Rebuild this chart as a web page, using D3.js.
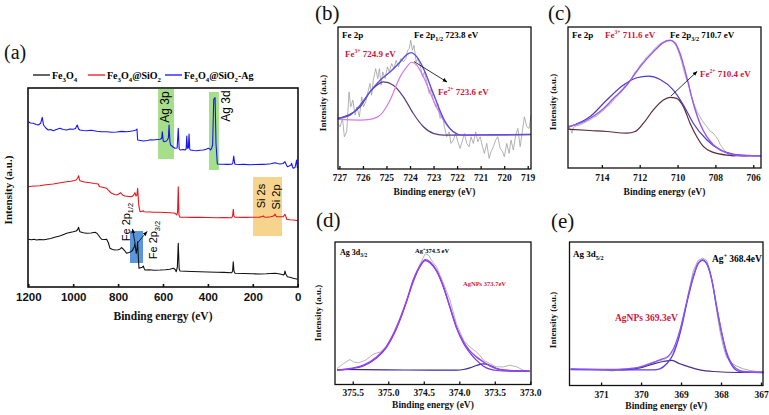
<!DOCTYPE html>
<html><head><meta charset="utf-8">
<script src="https://cdn.jsdelivr.net/npm/d3@7"></script>
<style>body{margin:0;background:#fff}svg{display:block}</style>
</head><body><svg id="c" width="769" height="415"></svg>
<script>
// ================= DATA =================
// Panel (a) survey spectra: [binding energy (eV), intensity (a.u.)]
const surveyTicks = [1200, 1000, 800, 600, 400, 200, 0];
const fe3o4 = [[1200,47.7],[1185,47.2],[1175,47.8],[1163,47],[1150,47.5],[1130,47.3],[1118,47.7],[1100,48.5],[1090,49.2],[1074,50.3],[1060,51],[1045,52.3],[1029,53.7],[1015,54.5],[1000,55.2],[987,56],[980,57.5],[976,59.7],[972,56.5],[970,55.3],[955,54.2],[940,53.7],[920,54],[903,54.7],[895,53.8],[888,52],[880,49.5],[873,47.7],[860,47.5],[851,47.7],[843,44],[836,38.7],[825,37.5],[814,37],[800,37.3],[791,38],[785,39.5],[776,37.7],[768,35.5],[762,33.7],[752,34.5],[744,35.3],[736,36.5],[732,38.7],[728,40],[725,43.7],[722,38],[719,33.7],[716,38],[713,45.3],[710,30],[707,18.7],[700,19.2],[692,19.8],[688,21],[684,18.5],[680,17],[660,17.2],[640,16.8],[613,17],[590,17.3],[570,17.8],[553,18.7],[546,17.5],[541,15.3],[536,20],[532,43.7],[528,18],[524,16],[500,15.8],[470,15.5],[435,15.3],[400,15],[360,14.7],[330,14.6],[294,14.3],[290,16],[287,25.3],[284,16],[279,13.7],[240,13.5],[200,13.2],[168,13],[140,13.2],[120,13.5],[101,13.7],[85,13.2],[70,12.5],[64,12],[59,13],[57,16],[53,13],[46,10.3],[35,9.8],[20,8.7],[10,8.2],[0,7.7]];
const fe3o4SiO2 = [[1200,100.3],[1185,100.8],[1170,101],[1148,101.3],[1130,102],[1110,102.5],[1089,103],[1070,103.8],[1050,104.5],[1029,105.3],[1010,105.8],[995,106.5],[987,107],[980,109],[976,111.3],[972,107.5],[970,106.3],[950,105],[925,104.3],[905,103.5],[888,103],[884,100.8],[880,100.3],[865,99.5],[851,98.7],[840,96],[829,93.7],[815,92.5],[806,92],[797,93],[789,94.3],[780,92],[770,91],[755,90.6],[740,90.3],[732,91.5],[725,94.3],[720,91],[716,92],[713,98.7],[709,85],[707,80.3],[702,75.3],[692,75.8],[688,76.3],[684,75.2],[670,75],[657,75],[640,74.8],[613,74.7],[590,74.5],[568,74.3],[553,74],[546,73.7],[539,72],[535,75],[532,100.3],[529,72],[524,69.7],[500,69.8],[470,69.6],[435,69.7],[400,69.5],[361,69.3],[330,69.4],[294,69.3],[290,71],[287,77.7],[284,71],[279,69.7],[240,69.6],[198,69.7],[170,69.9],[158,70.5],[153,71],[148,70],[138,69.7],[120,70.2],[108,71],[103,72],[101,73],[98,71.5],[94,70.3],[75,70.3],[64,70.3],[57,72.7],[52,70],[49,67.7],[35,67.3],[20,67],[10,66.8],[0,66.3]];
const fe3o4SiO2Ag = [[1200,165.3],[1190,164],[1178,163.7],[1165,162.5],[1155,162],[1145,163.7],[1138,169.7],[1132,162],[1122,159],[1111,157],[1100,157.5],[1089,156.3],[1075,157.5],[1059,158.7],[1045,157.5],[1029,157],[1015,158],[1000,157.7],[990,158.5],[982,162],[976,158],[970,157],[955,156.5],[940,156.3],[920,156.8],[895,155.7],[875,155.2],[851,155.3],[830,154.8],[806,155],[785,155.6],[762,155.3],[745,155.8],[732,156.3],[720,157],[716,158],[713,147],[700,146.5],[688,146],[670,146.5],[655,147.2],[643,147],[625,147.5],[613,147.7],[606,148.5],[603,155.3],[599,146],[594,145.3],[585,146],[581,147],[576,149],[573,162],[569,145],[566,142],[555,140],[547,138.7],[537,139],[532,158.7],[528,138],[524,137],[510,137.5],[502,137],[497,138],[494,151],[491,138.7],[487,139],[484,153],[481,138],[478,137],[465,136.5],[450,136.3],[435,136.7],[420,137],[408,137.8],[398,138.7],[391,138],[388,137],[383,139],[379,142],[374,187.7],[368,189.3],[364,143.7],[358,123],[345,122.8],[331,122.7],[315,122.6],[294,122.7],[289,124],[285,131],[281,124],[279,122.7],[260,122.5],[240,122.6],[212,122.3],[190,122.5],[160,122.6],[138,122.7],[120,123.2],[101,124.3],[90,123.5],[79,123],[65,123.5],[57,125.3],[50,122],[46,120.3],[38,121],[30,122],[27,123.7],[23,120],[20,118.7],[12,119.5],[5,127],[2,120],[0,118.7]];
// highlighted regions [eV from, eV to, intensity low, intensity high]
const bandAg3p = [622, 551, 128, 198];
const bandAg3d = [395, 351, 117, 195];
const bandSi = [199, 70, 51, 110];
const bandFe = [747, 689, 24, 56];

// Panel (b) Fe 2p1/2
const ticksB = [727, 726, 725, 724, 723, 722, 721, 720, 719];
const feB_raw = [[727.07,137],[726.97,127],[726.87,152],[726.79,97],[726.69,112],[726.59,232],[726.52,187],[726.43,207],[726.33,162],[726.26,187],[726.15,157],[726.05,217],[725.98,187],[725.88,202],[725.77,237],[725.70,257],[725.63,222],[725.56,267],[725.46,302],[725.37,272],[725.30,302],[725.23,252],[725.16,292],[725.06,272],[724.96,307],[724.88,292],[724.78,317],[724.68,302],[724.59,327],[724.49,307],[724.39,332],[724.28,322],[724.18,332],[724.10,357],[724.03,362],[723.97,387],[723.90,357],[723.83,372],[723.74,322],[723.67,332],[723.57,312],[723.47,277],[723.39,292],[723.29,262],[723.19,227],[723.10,242],[723.01,207],[722.91,187],[722.82,197],[722.72,152],[722.62,162],[722.54,127],[722.44,97],[722.34,112],[722.26,77],[722.16,87],[722.06,107],[721.97,82],[721.87,62],[721.77,87],[721.69,107],[721.59,77],[721.49,67],[721.41,97],[721.31,77],[721.21,112],[721.12,82],[721.02,97],[720.92,67],[720.84,47],[720.74,77],[720.64,32],[720.56,52],[720.46,67],[720.36,87],[720.27,97],[720.17,62],[720.07,52],[719.99,37],[719.89,77],[719.79,47],[719.71,87],[719.61,57],[719.51,102],[719.42,122],[719.32,67],[719.22,117],[719.14,157],[719.04,127],[718.94,122],[718.86,162]];
const feB_fit = [[727.07,152],[726.55,162],[726.12,192],[725.70,232],[725.27,267],[724.85,292],[724.42,322],[724.14,344],[723.95,350],[723.71,337],[723.43,302],[723.01,227],[722.58,152],[722.16,112],[721.80,102],[720.46,103],[718.86,104]];
const feB_fe3 = [[727.07,152],[726.12,187],[725.70,232],[725.41,252],[725.13,262],[724.71,252],[724.28,217],[723.86,167],[723.43,127],[723.01,107],[722.58,102],[718.86,103]];
const feB_fe2 = [[727.07,149],[726.12,147],[725.70,149],[725.27,162],[724.85,207],[724.42,277],[724.14,307],[723.93,321],[723.71,312],[723.43,277],[723.01,207],[722.58,147],[722.16,112],[721.80,102],[718.86,104]];

// Panel (c) Fe 2p3/2
const ticksC = [714, 712, 710, 708, 706];
const feC_raw = [[715.76,120],[715.67,118],[715.58,105],[715.50,122],[715.36,127],[715.14,130],[714.95,136],[714.80,140],[714.62,145],[714.45,152],[714.30,156],[714.15,163],[714.00,170],[713.87,176],[713.74,185],[713.55,192],[713.38,205],[713.21,215],[713.08,222],[712.95,230],[712.86,238],[712.77,255],[712.68,252],[712.59,260],[712.45,268],[712.24,290],[712.10,298],[711.98,310],[711.80,322],[711.63,335],[711.45,344],[711.28,355],[711.10,366],[710.92,375],[710.75,380],[710.57,385],[710.45,383],[710.31,385],[710.18,376],[710.05,365],[709.90,342],[709.78,320],[709.65,290],[709.52,265],[709.42,258],[709.34,230],[709.20,205],[709.08,185],[708.95,168],[708.82,155],[708.64,138],[708.46,125],[708.30,112],[708.11,105],[707.98,95],[707.85,85],[707.76,72],[707.67,65],[707.55,55],[707.41,45],[707.25,38],[707.06,35],[706.90,38],[706.71,37],[706.55,34],[706.36,35],[706.18,38],[706.00,37],[705.80,36],[705.60,37]];
const feC_fit = [[715.76,125],[715.14,135],[714.62,150],[714.00,175],[713.38,210],[712.68,250],[711.98,305],[711.28,350],[710.75,378],[710.40,385],[710.13,377],[709.87,345],[709.52,275],[709.17,195],[708.82,135],[708.46,95],[708.11,70],[707.59,50],[707.06,40],[706.36,37],[705.60,37]];
const feC_fe3 = [[715.76,123],[714.62,155],[713.74,205],[712.86,250],[712.15,272],[711.54,277],[710.92,267],[710.22,235],[709.69,190],[709.17,135],[708.46,85],[707.76,55],[707.06,42],[706.36,38],[705.60,37]];
const feC_fe2 = [[715.76,117],[714.62,113],[713.74,110],[712.68,105],[712.24,110],[711.80,135],[711.28,175],[710.75,205],[710.40,213],[710.05,210],[709.69,185],[709.34,135],[708.99,95],[708.64,65],[708.11,47],[707.41,39],[706.71,37],[705.60,37]];

// Panel (d) Ag 3d3/2
const ticksD = [375.5, 375.0, 374.5, 374.0, 373.5, 373.0];
const agD_raw = [[375.72,48],[375.63,63],[375.54,75],[375.49,68],[375.42,65],[375.32,73],[375.21,91],[375.11,98],[375.03,113],[374.93,153],[374.83,203],[374.74,253],[374.65,303],[374.55,363],[374.48,393],[374.43,388],[374.39,373],[374.32,353],[374.22,303],[374.13,253],[374.04,183],[373.94,133],[373.85,113],[373.76,98],[373.71,88],[373.66,73],[373.57,63],[373.48,53],[373.38,53],[373.29,58],[373.19,53],[373.10,43],[373.01,38]];
const agD_fit = [[375.72,43],[375.54,48],[375.35,58],[375.16,83],[375.03,113],[374.88,173],[374.74,253],[374.65,313],[374.55,358],[374.48,375],[374.41,368],[374.32,343],[374.22,293],[374.13,233],[374.04,173],[373.94,128],[373.85,101],[373.76,83],[373.66,68],[373.57,56],[373.48,48],[373.29,42],[373.01,40]];
const agD_ag = [[375.72,43],[375.54,47],[375.35,56],[375.16,80],[375.03,110],[374.88,170],[374.74,250],[374.65,310],[374.55,355],[374.48,372],[374.41,365],[374.32,340],[374.22,290],[374.13,230],[374.04,170],[373.94,123],[373.85,95],[373.76,73],[373.66,55],[373.57,46],[373.48,42],[373.29,40],[373.01,40]];
const agD_np = [[375.72,45],[375.02,44],[374.41,43],[374.04,43],[373.94,45],[373.85,50],[373.76,57],[373.66,62],[373.57,58],[373.48,48],[373.38,43],[373.19,41],[373.01,40]];

// Panel (e) Ag 3d5/2
const ticksE = [371, 370, 369, 368, 367];
const agE_raw = [[371.76,50],[371.53,48],[371.28,49],[370.86,47],[370.73,43],[370.61,47],[370.36,50],[370.11,53],[369.94,60],[369.78,67],[369.61,73],[369.44,77],[369.32,85],[369.19,100],[369.07,135],[368.94,195],[368.82,275],[368.69,345],[368.57,375],[368.46,382],[368.36,375],[368.28,345],[368.19,295],[368.11,225],[368.03,165],[367.94,115],[367.86,85],[367.73,67],[367.61,58],[367.44,50],[367.28,45],[367.11,42],[366.94,42]];
const agE_fit = [[371.76,50],[370.86,48],[370.36,50],[370.03,55],[369.78,65],[369.53,77],[369.32,88],[369.19,110],[369.03,165],[368.86,250],[368.69,330],[368.57,367],[368.46,377],[368.36,367],[368.23,317],[368.11,237],[367.98,157],[367.86,100],[367.73,65],[367.61,50],[367.44,42],[366.94,39]];
const agE_ag = [[371.76,48],[370.03,47],[369.69,47],[369.53,50],[369.36,65],[369.19,95],[369.03,155],[368.86,245],[368.69,325],[368.57,365],[368.46,375],[368.36,365],[368.23,315],[368.11,235],[367.98,155],[367.86,95],[367.73,60],[367.61,45],[367.44,40],[366.94,39]];
const agE_np = [[371.76,48],[370.44,47],[370.03,53],[369.69,65],[369.44,72],[369.23,75],[369.03,65],[368.78,55],[368.53,47],[368.19,42],[367.53,39],[366.94,39]];

// ================= DRAWING =================
const svg = d3.select('#c');
const SERIF = '"Liberation Serif","Times New Roman",serif';
const SANS = '"Liberation Sans",Arial,sans-serif';
const RED = '#d3143c';

const defs = svg.append('defs');
defs.append('marker').attr('id','arr').attr('viewBox','0 0 10 10').attr('refX',9).attr('refY',5)
  .attr('markerWidth',6).attr('markerHeight',6).attr('orient','auto')
  .append('path').attr('d','M0,1 L10,5 L0,9 z').attr('fill','#000');

// rich text: parts = [[string, 'sub'|'sup'|null, ...]]
function rich(parent, x, y, parts, o) {
  const t = parent.append('text').attr('x', x).attr('y', y)
    .attr('font-family', o.family || SERIF).attr('font-weight', o.weight || 'bold')
    .attr('font-size', o.size).attr('fill', o.fill || '#000')
    .attr('text-anchor', o.anchor || 'start');
  if (o.rotate) t.attr('transform', `rotate(${o.rotate},${x},${y})`);
  let shift = 0;
  parts.forEach(p => {
    const s = t.append('tspan').text(p[0]);
    let target = 0;
    if (p[1] === 'sub') { target = o.size * 0.3; s.attr('font-size', o.size * 0.68); }
    if (p[1] === 'sup') { target = -o.size * 0.4; s.attr('font-size', o.size * 0.62); }
    if (target !== shift) { s.attr('dy', target - shift); shift = target; }
  });
  return t;
}

function panel(cfg) {
  const x = d3.scaleLinear().domain(cfg.xd).range([cfg.x0, cfg.x1]);
  const y = d3.scaleLinear().domain(cfg.yd).range([cfg.y1, cfg.y0]);
  const g = svg.append('g');
  const ax = d3.axisBottom(x).tickValues(cfg.ticks).tickFormat(cfg.fmt)
    .tickSize(-cfg.tl).tickPadding(cfg.pad);
  const a = g.append('g').attr('transform', `translate(0,${cfg.y1})`).call(ax);
  a.select('.domain').remove();
  a.selectAll('line').attr('stroke', '#111').attr('stroke-width', cfg.fw);
  a.selectAll('text').attr('font-family', cfg.tf).attr('font-weight', 'bold')
    .attr('font-size', cfg.ts).attr('fill', '#111');
  g.append('text').attr('x', (cfg.x0 + cfg.x1) / 2 + (cfg.tdx || 0)).attr('y', cfg.titleY)
    .attr('text-anchor', 'middle').attr('font-family', SERIF).attr('font-weight', 'bold')
    .attr('font-size', cfg.titleSize).attr('fill', '#111').text('Binding energy (eV)');
  g.append('text').attr('transform', `translate(${cfg.ylx},${cfg.yly}) rotate(-90)`)
    .attr('text-anchor', 'middle').attr('font-family', SERIF).attr('font-weight', 'bold')
    .attr('font-size', cfg.ylSize).attr('fill', '#111').text('Intensity (a.u.)');
  g.append('text').attr('x', cfg.lx).attr('y', cfg.ly).attr('font-family', SERIF)
    .attr('font-size', cfg.lsize).attr('fill', '#111').text(cfg.label);
  cfg.bandsFn && cfg.bandsFn(g, x, y);
  const plot = g.append('g');
  cfg.series.forEach(s => {
    const line = d3.line().x(d => x(d[0])).y(d => y(d[1]))
      .curve(s.smooth ? d3.curveMonotoneX : d3.curveLinear);
    plot.append('path').datum(s.data).attr('d', line).attr('fill', 'none')
      .attr('stroke', s.color).attr('stroke-width', s.w).attr('stroke-linejoin', 'round');
  });
  g.append('rect').attr('x', cfg.x0).attr('y', cfg.y0).attr('width', cfg.x1 - cfg.x0)
    .attr('height', cfg.y1 - cfg.y0).attr('fill', 'none').attr('stroke', '#111').attr('stroke-width', cfg.fw);
  return { g, x, y };
}

// ---- Panel (a)
const pa = panel({
  x0: 28, x1: 298, y0: 88, y1: 287, xd: [1201.3, -1.3], yd: [0, 199],
  ticks: surveyTicks, fmt: d3.format('d'), tl: 3, pad: 6, fw: 1.6,
  tf: SANS, ts: 11.5, titleY: 320, titleSize: 11.5, tdx: 0,
  ylx: 12, yly: 190, ylSize: 11, lx: 4, ly: 59, lsize: 20, label: '(a)',
  bandsFn: (g, x, y) => {
    const band = (b, c, op) => g.append('rect').attr('x', x(b[0])).attr('width', x(b[1]) - x(b[0]))
      .attr('y', y(b[3])).attr('height', y(b[2]) - y(b[3])).attr('fill', c).attr('opacity', op);
    band(bandAg3p, '#a6df8a', 1); band(bandAg3d, '#a6df8a', 1);
    band(bandSi, '#f7d48e', 1); band(bandFe, '#5b96dc', 1);
  },
  series: [
    { data: fe3o4, color: '#111', w: 1.1 },
    { data: fe3o4SiO2, color: '#e8141c', w: 1.1 },
    { data: fe3o4SiO2Ag, color: '#1414ff', w: 1.1 }
  ]
});
// band labels
const ga = pa.g;
rich(ga, 165, 107, [['Ag 3p']], { size: 12, family: SANS, weight: 'normal', anchor: 'middle', rotate: -90 }).attr('dominant-baseline', 'central');
rich(ga, 226, 106, [['Ag 3d']], { size: 12, family: SANS, weight: 'normal', anchor: 'middle', rotate: -90 }).attr('dominant-baseline', 'central');
rich(ga, 260.5, 196, [['Si 2s']], { size: 11, family: SANS, weight: 'normal', anchor: 'middle', rotate: -90 }).attr('dominant-baseline', 'central');
rich(ga, 275.5, 197, [['Si 2p']], { size: 11, family: SANS, weight: 'normal', anchor: 'middle', rotate: -90 }).attr('dominant-baseline', 'central');
rich(ga, 129.5, 222, [['Fe 2p'], ['1/2', 'sub']], { size: 11, family: SANS, weight: 'normal', anchor: 'middle', rotate: -90 });
rich(ga, 156.5, 240, [['Fe 2p'], ['3/2', 'sub']], { size: 11, family: SANS, weight: 'normal', anchor: 'middle', rotate: -90 });
ga.append('line').attr('x1', 135).attr('y1', 243).attr('x2', 132.5).attr('y2', 229).attr('stroke', '#000').attr('stroke-width', 0.8).attr('marker-end', 'url(#arr)');
ga.append('line').attr('x1', 137.5).attr('y1', 243).attr('x2', 147).attr('y2', 231.5).attr('stroke', '#000').attr('stroke-width', 0.8).attr('marker-end', 'url(#arr)');
// legend
const legend = [
  { x: 33, parts: [['Fe'], ['3', 'sub'], ['O'], ['4', 'sub']], color: '#111' },
  { x: 88, parts: [['Fe'], ['3', 'sub'], ['O'], ['4', 'sub'], ['@SiO'], ['2', 'sub']], color: '#e8141c' },
  { x: 165, parts: [['Fe'], ['3', 'sub'], ['O'], ['4', 'sub'], ['@SiO'], ['2', 'sub'], ['-Ag']], color: '#1414ff' }
];
legend.forEach(l => {
  svg.append('line').attr('x1', l.x).attr('x2', l.x + 17).attr('y1', 75).attr('y2', 75)
    .attr('stroke', l.color).attr('stroke-width', 1.3);
  rich(svg, l.x + 19, 78.5, l.parts, { size: 10 });
});

// ---- Panel (b)
const pb = panel({
  x0: 338, x1: 531, y0: 27, y1: 169, xd: [727.06, 718.86], yd: [0, 427],
  ticks: ticksB, fmt: d3.format('d'), tl: 3, pad: 5, fw: 1.3,
  tf: SERIF, ts: 9.5, titleY: 195, titleSize: 9.5,
  ylx: 326, yly: 103, ylSize: 9, lx: 315, ly: 20, lsize: 21, label: '(b)',
  series: [
    { data: feB_raw, color: '#9e9e9e', w: 0.8 },
    { data: feB_fe3, color: '#5a3a7e', w: 1.2, smooth: true },
    { data: feB_fe2, color: '#d47af0', w: 1.2, smooth: true },
    { data: feB_fit, color: '#5a4fe6', w: 1.4, smooth: true }
  ]
});
rich(pb.g, 342, 38, [['Fe 2p']], { size: 9 });
rich(pb.g, 414, 38, [['Fe 2p'], ['1/2', 'sub'], [' 723.8 eV']], { size: 9 });
rich(pb.g, 345, 56.5, [['Fe'], ['3+', 'sup'], [' 724.9 eV']], { size: 9, fill: RED });
rich(pb.g, 438, 95, [['Fe'], ['2+', 'sup'], [' 723.6 eV']], { size: 9, fill: RED });
pb.g.append('line').attr('x1', 414).attr('y1', 61.5).attr('x2', 447).attr('y2', 82)
  .attr('stroke', '#000').attr('stroke-width', 0.8).attr('marker-end', 'url(#arr)');

// ---- Panel (c)
const pc = panel({
  x0: 568, x1: 761, y0: 27, y1: 168, xd: [715.79, 705.59], yd: [0, 425],
  ticks: ticksC, fmt: d3.format('d'), tl: 3, pad: 6, fw: 1.3,
  tf: SERIF, ts: 9.5, titleY: 195, titleSize: 9.5,
  ylx: 556, yly: 102, ylSize: 9, lx: 548, ly: 20, lsize: 21, label: '(c)',
  series: [
    { data: feC_raw, color: '#9e9e9e', w: 0.8 },
    { data: feC_fe2, color: '#5a2a3c', w: 1.2, smooth: true },
    { data: feC_fe3, color: '#4d3cc4', w: 1.2, smooth: true },
    { data: feC_fit, color: '#9a55f5', w: 1.4, smooth: true }
  ]
});
rich(pc.g, 572, 38, [['Fe 2p']], { size: 9 });
rich(pc.g, 605, 38, [['Fe'], ['3+', 'sup'], [' 711.6 eV']], { size: 9, fill: RED });
rich(pc.g, 670, 38, [['Fe 2p'], ['3/2', 'sub'], [' 710.7 eV']], { size: 9 });
rich(pc.g, 700, 76.5, [['Fe'], ['2+', 'sup'], [' 710.4 eV']], { size: 9, fill: RED });
pc.g.append('line').attr('x1', 671).attr('y1', 96).attr('x2', 697).attr('y2', 71.5)
  .attr('stroke', '#000').attr('stroke-width', 0.8).attr('marker-end', 'url(#arr)');

// ---- Panel (d)
const pd = panel({
  x0: 335, x1: 531, y0: 242, y1: 384.5, xd: [375.75, 372.99], yd: [0, 428],
  ticks: ticksD, fmt: d3.format('.1f'), tl: 3, pad: 5, fw: 1.3,
  tf: SERIF, ts: 9.5, titleY: 408, titleSize: 9.5,
  ylx: 321, yly: 313, ylSize: 9, lx: 316, ly: 227, lsize: 21, label: '(d)',
  series: [
    { data: agD_raw, color: '#a2a2a2', w: 0.8 },
    { data: agD_np, color: '#3b2aa0', w: 1.2, smooth: true },
    { data: agD_ag, color: '#6a3ae0', w: 1.2, smooth: true },
    { data: agD_fit, color: '#9b40f0', w: 1.4, smooth: true }
  ]
});
rich(pd.g, 340, 254.5, [['Ag 3d'], ['3/2', 'sub']], { size: 8 });
rich(pd.g, 415, 252.5, [['Ag'], ['+', 'sup'], ['374.5 eV']], { size: 6.5 });
rich(pd.g, 463, 285.5, [['AgNPs 373.7eV']], { size: 6.5, fill: RED });

// ---- Panel (e)
const pe = panel({
  x0: 569.5, x1: 763, y0: 242, y1: 385.5, xd: [371.79, 366.95], yd: [0, 430],
  ticks: ticksE, fmt: d3.format('d'), tl: 3, pad: 6, fw: 1.3,
  tf: SERIF, ts: 9.5, titleY: 409, titleSize: 9.5,
  ylx: 556, yly: 320, ylSize: 9, lx: 551, ly: 228, lsize: 21, label: '(e)',
  series: [
    { data: agE_raw, color: '#a2a2a2', w: 0.9 },
    { data: agE_np, color: '#4a2d8c', w: 1.2, smooth: true },
    { data: agE_ag, color: '#5b3ef0', w: 1.3, smooth: true },
    { data: agE_fit, color: '#8e52f2', w: 1.3, smooth: true }
  ]
});
rich(pe.g, 573, 257, [['Ag 3d'], ['5/2', 'sub']], { size: 9 });
rich(pe.g, 712, 261.5, [['Ag'], ['+', 'sup'], [' 368.4eV']], { size: 9.5 });
rich(pe.g, 615, 320.5, [['AgNPs  369.3eV']], { size: 9.5, fill: RED });
</script>
</body></html>
